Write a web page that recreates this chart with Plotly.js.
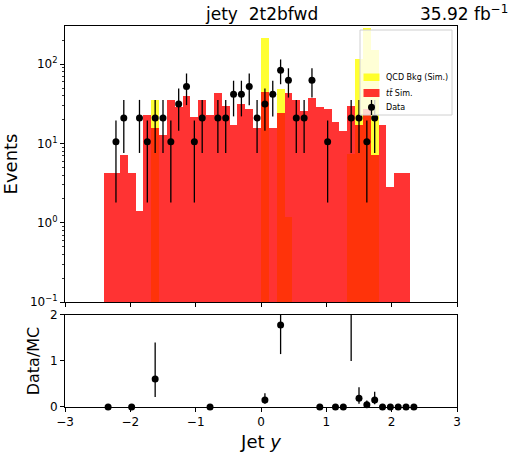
<!DOCTYPE html>
<html>
<head>
<meta charset="utf-8">
<script src="https://cdn.plot.ly/plotly-3.0.1.min.js"></script>
<style>
  html, body { margin: 0; padding: 0; background: #fff; }
  #chart { width: 521px; height: 459px; }
</style>
</head>
<body>
<div id="chart"></div>
<script>
// bin centres of the jet rapidity histogram (width 0.12)
const binCenters = [-2.34, -2.22, -2.10, -1.98, -1.86, -1.74, -1.62, -1.50, -1.38, -1.26,
                    -1.14, -1.02, -0.90, -0.78, -0.66, -0.54, -0.42, -0.30, -0.18, -0.06,
                     0.06,  0.18,  0.30,  0.42,  0.54,  0.66,  0.78,  0.90,  1.02,  1.14,
                     1.26,  1.38,  1.50,  1.62,  1.74,  1.86,  1.98,  2.10,  2.22,  2.34];

// ttbar simulation per bin
const ttbarSim = [4.2, 4.2, 7.2, 4.2, 1.4, 23, 15.8, 12.8, 35.5, 28.7,
                  39.8, 21.6, 35.5, 23, 43.5, 29.8, 17.2, 31.6, 27.3, 15.8,
                  45.2, 15.8, 24.3, 43, 35.5, 25.8, 37.6, 28.7, 27.3, 18.7,
                  14.3, 29.8, 17.2, 27.3, 7.2, 17.2, 2.8, 4.2, 4.2, null];

// QCD background simulation per bin
const qcdSim = [null, null, null, null, null, null, 35.5, null, null, null,
                null, null, null, null, null, null, null, null, null, null,
                216, null, 48.8, 1.18, null, null, null, null, null, null,
                null, 7.4, 117, 285, 151, null, null, null, null, null];

// data points
const dataX = [-2.22, -2.10, -1.86, -1.74, -1.62, -1.50, -1.38, -1.26, -1.14, -1.02,
               -0.90, -0.66, -0.54, -0.42, -0.30, -0.18, -0.06, 0.06, 0.18, 0.30,
                0.42, 0.54, 0.66, 0.78, 1.02, 1.38, 1.50, 1.62, 1.74];
const dataY = [10.5, 21, 21, 10.5, 21, 21, 10.5, 31.5, 52.5, 10.5,
               21, 21, 21, 42, 42, 52.5, 21, 31.5, 42, 84,
               63, 21, 21, 63, 10.5, 21, 21, 10.5, 21];
const dataErrUp = [9, 14.5, 14.5, 9, 14.5, 14.5, 9, 18, 24, 9,
                   14.5, 14.5, 14.5, 20, 20, 24, 14.5, 18, 20, 31,
                   26, 14.5, 14.5, 26, 9, 14.5, 14.5, 9, 14.5];
const dataErrDown = [8.7, 13.4, 13.4, 8.7, 13.4, 13.4, 8.7, 17, 22, 8.7,
                     13.4, 13.4, 13.4, 20, 20, 22, 13.4, 17, 20, 28,
                     25, 13.4, 13.4, 25, 8.7, 13.4, 13.4, 8.7, 13.4];

// data / MC ratio
const ratioX = [-2.34, -1.98, -1.62, -0.78, 0.06, 0.30, 0.90, 1.14, 1.26, 1.38,
                 1.50, 1.62, 1.74, 1.86, 1.98, 2.10, 2.22, 2.34];
const ratioY = [0, 0, 0.61, 0, 0.15, 1.78, 0, 0, 0, 2.6,
                0.19, 0.05, 0.15, 0, 0, 0, 0, 0];
const ratioErrUp = [0, 0, 0.79, 0, 0.15, 0.63, 0, 0, 0, 1.6,
                    0.24, 0.09, 0.18, 0, 0, 0, 0, 0];
const ratioErrDown = [0, 0, 0.39, 0, 0.08, 0.63, 0, 0, 0, 1.6,
                      0.12, 0.05, 0.09, 0, 0, 0, 0, 0];

// log-axis tick positions
const logMajor = [0.1, 1, 10, 100];
const logMajorText = ['10<sup>\u22121</sup>', '10<sup>0</sup>', '10<sup>1</sup>', '10<sup>2</sup>'];
const logMinor = [0.2, 0.3, 0.4, 0.5, 0.6, 0.7, 0.8, 0.9,
                  2, 3, 4, 5, 6, 7, 8, 9,
                  20, 30, 40, 50, 60, 70, 80, 90, 200];

const font = 'DejaVu Sans, sans-serif';

// ratio points fully inside the panel are drawn unclipped (so dots on 0 stay round)
const inIdx = [], outIdx = [];
ratioY.forEach((v, i) => (v + ratioErrUp[i] <= 2 ? inIdx : outIdx).push(i));
const pick = (arr, idx) => idx.map(i => arr[i]);

function ratioTrace(idx, clip) {
    return {
        type: 'scatter', mode: 'markers',
        x: pick(ratioX, idx), y: pick(ratioY, idx),
        xaxis: 'x', yaxis: 'y2',
        cliponaxis: clip,
        marker: { color: '#000', size: 7 },
        error_y: { type: 'data', symmetric: false,
                   array: pick(ratioErrUp, idx), arrayminus: pick(ratioErrDown, idx),
                   color: '#000', thickness: 1.3, width: 0 },
        showlegend: false, hoverinfo: 'skip'
    };
}

const traces = [
    {
        type: 'bar', name: 'QCD Bkg (Sim.)',
        x: binCenters, y: qcdSim, width: 0.12,
        xaxis: 'x2', yaxis: 'y',
        marker: { color: 'rgba(255,255,0,0.8)', line: { width: 0 } },
        showlegend: false
    },
    {
        type: 'bar', name: 'tt Sim.',
        x: binCenters, y: ttbarSim, width: 0.12,
        xaxis: 'x2', yaxis: 'y',
        marker: { color: 'rgba(255,0,0,0.8)', line: { width: 0 } },
        showlegend: false
    },
    {
        type: 'scatter', mode: 'markers', name: 'Data',
        x: dataX, y: dataY,
        xaxis: 'x2', yaxis: 'y',
        marker: { color: '#000', size: 7 },
        error_y: { type: 'data', symmetric: false, array: dataErrUp, arrayminus: dataErrDown,
                   color: '#000', thickness: 1.3, width: 0 },
        showlegend: false
    },
    ratioTrace(inIdx, false),
    ratioTrace(outIdx, true)
];

const axisCommon = {
    showline: true, linecolor: '#000', linewidth: 1, mirror: true,
    ticks: 'outside', ticklen: 4, tickcolor: '#000', tickwidth: 1,
    showgrid: false, zeroline: false,
    tickfont: { family: font, size: 12, color: '#000' }
};

// pixel -> paper helpers for the hand-made legend
const px = v => (v - 65) / 392;
const py = v => (407 - v) / 381;

const layout = {
    width: 521, height: 459,
    margin: { l: 65, r: 64, t: 26, b: 52 },
    paper_bgcolor: '#fff', plot_bgcolor: '#fff',
    barmode: 'overlay', bargap: 0,
    showlegend: false,
    font: { family: font, color: '#000' },
    xaxis: Object.assign({}, axisCommon, {
        domain: [0, 1], anchor: 'y2', range: [-3, 3],
        tickvals: [-3, -2, -1, 0, 1, 2, 3],
        ticktext: ['\u22123', '\u22122', '\u22121', '0', '1', '2', '3'],
        title: { text: 'Jet <i>y</i>', font: { family: font, size: 18, color: '#000' }, standoff: 6 }
    }),
    xaxis2: Object.assign({}, axisCommon, {
        domain: [0, 1], anchor: 'y', matches: 'x', range: [-3, 3],
        tickvals: [-3, -2, -1, 0, 1, 2, 3], showticklabels: false
    }),
    yaxis: Object.assign({}, axisCommon, {
        domain: [0.2756, 1], type: 'log', range: [-1, 2.483],
        tickvals: logMajor, ticktext: logMajorText,
        minor: { ticks: 'outside', ticklen: 2, tickcolor: '#000', tickwidth: 0.8,
                 tickvals: logMinor, showgrid: false },
        title: { text: 'Events', font: { family: font, size: 18, color: '#000' }, standoff: 10 }
    }),
    yaxis2: Object.assign({}, axisCommon, {
        domain: [0, 0.2415], range: [0, 2],
        tickvals: [0, 1, 2],
        title: { text: 'Data/MC', font: { family: font, size: 16, color: '#000' }, standoff: 6 }
    }),
    annotations: [
        { text: 'jety  2t2bfwd', xref: 'paper', yref: 'paper', x: 0.5, y: py(14.5),
          xanchor: 'center', yanchor: 'middle', showarrow: false,
          font: { family: font, size: 17, color: '#000' } },
        { text: '35.92 fb<sup>\u22121</sup>', xref: 'paper', yref: 'paper', x: px(510), y: py(13),
          xanchor: 'right', yanchor: 'middle', showarrow: false,
          font: { family: font, size: 17, color: '#000' } },
        { text: 'QCD Bkg (Sim.)', xref: 'paper', yref: 'paper', x: px(384), y: py(77.5),
          xanchor: 'left', yanchor: 'middle', showarrow: false,
          font: { family: font, size: 8, color: '#000' } },
        { text: '<i>t\u0074\u0304</i> Sim.', xref: 'paper', yref: 'paper', x: px(384), y: py(93),
          xanchor: 'left', yanchor: 'middle', showarrow: false,
          font: { family: font, size: 8, color: '#000' } },
        { text: 'Data', xref: 'paper', yref: 'paper', x: px(384), y: py(107.5),
          xanchor: 'left', yanchor: 'middle', showarrow: false,
          font: { family: font, size: 8, color: '#000' } }
    ],
    shapes: [
        { type: 'rect', xref: 'paper', yref: 'paper', layer: 'above',
          x0: px(360), x1: px(452), y0: py(115), y1: py(30),
          fillcolor: 'rgba(255,255,255,0.8)', line: { color: '#d0d0d0', width: 1 } },
        { type: 'rect', xref: 'paper', yref: 'paper', layer: 'above',
          x0: px(363.5), x1: px(379.5), y0: py(81), y1: py(73.5),
          fillcolor: 'rgba(255,255,0,0.8)', line: { width: 0 } },
        { type: 'rect', xref: 'paper', yref: 'paper', layer: 'above',
          x0: px(363.5), x1: px(379.5), y0: py(97), y1: py(89),
          fillcolor: 'rgba(255,0,0,0.8)', line: { width: 0 } },
        { type: 'line', xref: 'paper', yref: 'paper', layer: 'above',
          x0: px(371.5), x1: px(371.5), y0: py(115), y1: py(100),
          line: { color: '#000', width: 1.3 } },
        { type: 'circle', xref: 'paper', yref: 'paper', layer: 'above',
          xsizemode: 'pixel', ysizemode: 'pixel', xanchor: px(371.5), yanchor: py(107.3),
          x0: -3.5, x1: 3.5, y0: -3.5, y1: 3.5,
          fillcolor: '#000', line: { width: 0 } }
    ]
};

Plotly.newPlot('chart', traces, layout, { staticPlot: true, displayModeBar: false });
</script>
</body>
</html>
